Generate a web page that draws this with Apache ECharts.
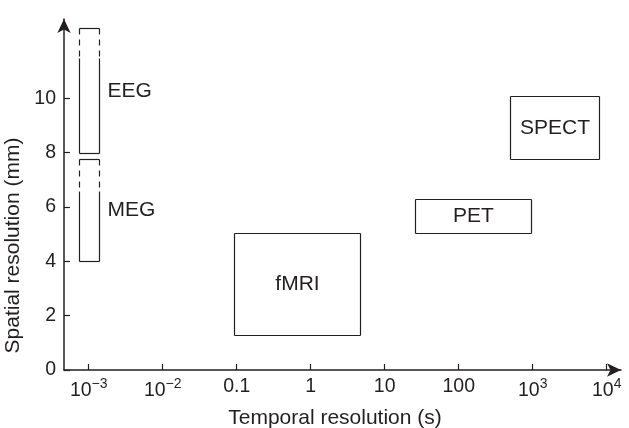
<!DOCTYPE html>
<html>
<head>
<meta charset="utf-8">
<script src="https://cdn.jsdelivr.net/npm/echarts@6/dist/echarts.min.js"></script>
<style>
  html, body { margin: 0; padding: 0; background: #fff; }
  #chart { width: 629px; height: 428px; }
</style>
</head>
<body>
<div id="chart"></div>
<script>
// techniques and their extents (time in seconds, space in mm)
const techniques = ["EEG", "MEG", "fMRI", "PET", "SPECT"];
const timeLow = [0.00075, 0.00075, 0.093, 26, 490];
const timeHigh = [0.00139, 0.00139, 4.6, 950, 7900];
const spaceLow = [8, 4, 1.28, 5.06, 7.76];
const spaceHigh = [12.6, 7.75, 5.04, 6.28, 10.08];
// where the dashed (uncertain) part of the box ends, 0 = none
const dashedDownTo = [11.47, 6.6, 0, 0, 0];
// label outside the box (to the right) or centered inside
const labelOutside = [true, true, false, false, false];

const xTickValues = [0.001, 0.01, 0.1, 1, 10, 100, 1000, 10000];
const xTickLabels = ["{b|10}{s|\u22123}", "{b|10}{s|\u22122}", "0.1", "1", "10", "100", "{b|10}{s|3}", "{b|10}{s|4}"];
const yTickValues = [0, 2, 4, 6, 8, 10];

const font = "'Liberation Sans', Arial, sans-serif";
const ink = "#231f20";

const chart = echarts.init(document.getElementById("chart"));

const xLog = xTickValues.map((v) => Math.log10(v));
const boxData = techniques.map((name, i) => [
  Math.log10(timeLow[i]),
  Math.log10(timeHigh[i]),
  spaceLow[i],
  spaceHigh[i],
  dashedDownTo[i],
  i,
]);

function renderBox(params, api) {
  const i = api.value(5);
  const p0 = api.coord([api.value(0), api.value(2)]);
  const p1 = api.coord([api.value(1), api.value(3)]);
  const x0 = Math.round(p0[0]) + 0.5, x1 = Math.round(p1[0]) + 0.5;
  const yb = Math.round(p0[1]) + 0.5, yt = Math.round(p1[1]) + 0.5;
  const line = { stroke: ink, lineWidth: 1.2 };
  const children = [
    { type: "line", shape: { x1: x0, y1: yt, x2: x1, y2: yt }, style: line },
    { type: "line", shape: { x1: x0, y1: yb, x2: x1, y2: yb }, style: line },
  ];
  const d = api.value(4);
  [x0, x1].forEach((x) => {
    if (d > 0) {
      const yd = Math.round(api.coord([0, d])[1]) + 0.5;
      children.push({ type: "line", shape: { x1: x, y1: yt, x2: x, y2: yd },
        style: Object.assign({ lineDash: [6, 5] }, line) });
      children.push({ type: "line", shape: { x1: x, y1: yd, x2: x, y2: yb }, style: line });
    } else {
      children.push({ type: "line", shape: { x1: x, y1: yt, x2: x, y2: yb }, style: line });
    }
  });
  const outside = labelOutside[i];
  children.push({
    type: "text",
    style: {
      text: techniques[i],
      x: outside ? x1 + 8 : (x0 + x1) / 2,
      y: (yt + yb) / 2,
      align: outside ? "left" : "center",
      verticalAlign: "middle",
      fontSize: 21,
      fontFamily: font,
      fill: ink,
    },
  });
  return { type: "group", children };
}

const option = {
  animation: false,
  backgroundColor: "#fff",
  grid: { left: 64, right: 8, top: 19, bottom: 58, outerBoundsMode: "none", containLabel: false },
  xAxis: {
    type: "value",
    min: -3.334,
    max: 4.193,
    name: "Temporal resolution (s)",
    nameLocation: "middle",
    nameGap: 38,
    nameTextStyle: { fontSize: 21, fontFamily: font, color: ink, padding: [0, 15, 0, 0] },
    axisLine: { lineStyle: { color: ink, width: 1.5 }, symbol: ["none", "arrow"], symbolSize: [10, 14] },
    axisTick: { show: true, inside: true, length: 6, lineStyle: { color: ink, width: 1.2 }, customValues: xLog },
    axisLabel: {
      customValues: xLog,
      margin: 7,
      formatter: (v) => xTickLabels[xLog.findIndex((t) => Math.abs(t - v) < 1e-6)],
      fontSize: 19.5,
      fontFamily: font,
      color: ink,
      rich: {
        b: { fontSize: 19.5, fontFamily: font, color: ink, lineHeight: 24, verticalAlign: "bottom" },
        s: { fontSize: 14, fontFamily: font, color: ink, lineHeight: 24, verticalAlign: "top" },
      },
    },
    splitLine: { show: false },
  },
  yAxis: {
    type: "value",
    min: 0,
    max: 12.92,
    name: "Spatial resolution (mm)",
    nameLocation: "middle",
    nameGap: 36,
    nameTextStyle: { fontSize: 21, fontFamily: font, color: ink, padding: [0, 102, 0, 0] },
    axisLine: { onZero: false, lineStyle: { color: ink, width: 1.5 }, symbol: ["none", "arrow"], symbolSize: [10, 14] },
    axisTick: { show: true, inside: true, length: 6, lineStyle: { color: ink, width: 1.2 }, customValues: yTickValues },
    axisLabel: { customValues: yTickValues, margin: 8, fontSize: 19.5, fontFamily: font, color: ink },
    splitLine: { show: false },
  },
  series: [
    {
      type: "custom",
      renderItem: renderBox,
      data: boxData,
      encode: { x: [0, 1], y: [2, 3] },
      silent: true,
    },
  ],
};

chart.setOption(option);
</script>
</body>
</html>
